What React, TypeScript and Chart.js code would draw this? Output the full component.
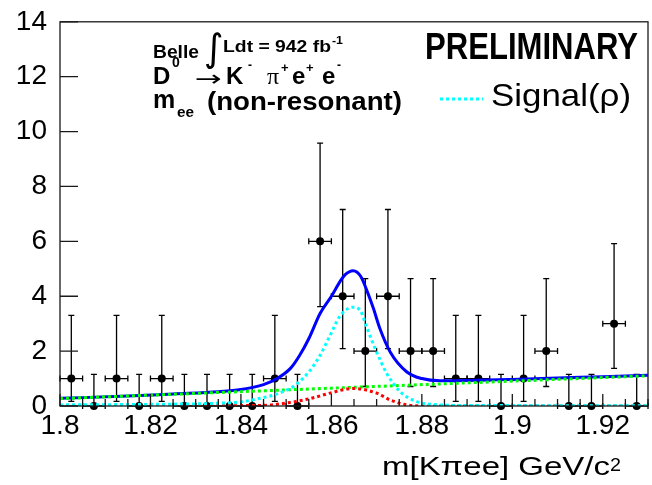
import React, { useEffect, useRef } from 'react';
import { Chart, registerables } from 'chart.js';

Chart.register(...registerables);

// ---------- data ----------
const X_MIN = 1.8;
const X_MAX = 1.93;
const Y_MIN = 0;
const Y_MAX = 14;
const BIN_HALF = 0.0025;

const binCenters = [
  1.8025, 1.8075, 1.8125, 1.8175, 1.8225, 1.8275, 1.8325, 1.8375, 1.8425, 1.8475,
  1.8525, 1.8575, 1.8625, 1.8675, 1.8725, 1.8775, 1.8825, 1.8875, 1.8925, 1.8975,
  1.9025, 1.9075, 1.9125, 1.9175, 1.9225, 1.9275,
];
const counts = [1, 0, 1, 0, 1, 0, 0, 0, 0, 1, 0, 6, 4, 2, 4, 2, 2, 1, 1, 0, 1, 2, 0, 0, 3, 0];
const errLow = [0.83, 0, 0.83, 0, 0.83, 0, 0, 0, 0, 0.83, 0, 2.38, 1.91, 1.29, 1.91, 1.29, 1.29, 0.83, 0.83, 0, 0.83, 1.29, 0, 0, 1.63, 0];
const errHigh = [2.3, 1.15, 2.3, 1.15, 2.3, 1.15, 1.15, 1.15, 1.15, 2.3, 1.15, 3.58, 3.16, 2.64, 3.16, 2.64, 2.64, 2.3, 2.3, 1.15, 2.3, 2.64, 1.15, 1.15, 2.92, 1.15];

// total fit (blue)
const totalMass = [1.8, 1.815, 1.825, 1.835, 1.84, 1.845, 1.848, 1.851, 1.853, 1.855, 1.8575, 1.86, 1.862, 1.863, 1.8648, 1.8665, 1.868, 1.8693, 1.8707, 1.873, 1.8767, 1.88, 1.884, 1.89, 1.9, 1.91, 1.92, 1.93];
const totalVal = [0.28, 0.36, 0.44, 0.52, 0.6, 0.78, 1.0, 1.38, 1.85, 2.45, 3.37, 4.0, 4.56, 4.78, 4.93, 4.72, 4.14, 3.55, 2.83, 1.97, 1.24, 1.0, 0.92, 0.93, 0.97, 1.02, 1.07, 1.12];

// combinatorial background (green)
const bkgMass = [1.8, 1.86, 1.93];
const bkgVal = [0.27, 0.65, 1.1];

// peaking background (red)
const peakMass = [1.8, 1.845, 1.8479, 1.852, 1.856, 1.8597, 1.8648, 1.87, 1.873, 1.8767, 1.88, 1.93];
const peakVal = [0.0, 0.02, 0.06, 0.16, 0.3, 0.47, 0.64, 0.47, 0.22, 0.04, 0.0, 0.0];

// signal (cyan)
const sigMass = [1.8, 1.82, 1.835, 1.84, 1.8442, 1.848, 1.852, 1.8553, 1.8575, 1.8597, 1.862, 1.8648, 1.8665, 1.8678, 1.87, 1.8722, 1.8752, 1.8789, 1.882, 1.89, 1.93];
const sigVal = [0.04, 0.06, 0.1, 0.15, 0.28, 0.44, 0.76, 1.3, 1.85, 2.57, 3.3, 3.6, 3.45, 2.87, 1.97, 1.2, 0.52, 0.16, 0.06, 0.02, 0.01];

const xTickValues = [1.8, 1.82, 1.84, 1.86, 1.88, 1.9, 1.92];
const yTickValues = [0, 2, 4, 6, 8, 10, 12, 14];
const X_MINOR_STEP = 0.005;

const FAMILY = "'Liberation Sans', Arial, Helvetica, sans-serif";

const pts = (xs: number[], ys: number[]) => xs.map((x, i) => ({ x, y: ys[i] }));

function txt(ctx: CanvasRenderingContext2D, s: string, x: number, y: number, font: string, w?: number) {
  ctx.font = font;
  if (w) {
    const m = ctx.measureText(s).width;
    ctx.save();
    ctx.translate(x, y);
    ctx.scale(w / m, 1);
    ctx.fillText(s, 0, 0);
    ctx.restore();
  } else {
    ctx.fillText(s, x, y);
  }
}

const errorBarPlugin = {
  id: 'errorBars',
  beforeDatasetsDraw(chart: any) {
    const { ctx, scales } = chart;
    const xs = scales.x;
    const ys = scales.y;
    ctx.save();
    ctx.strokeStyle = '#000';
    ctx.lineWidth = 1.3;
    const cap = 3;
    binCenters.forEach((c, i) => {
      const px = xs.getPixelForValue(c);
      const py = ys.getPixelForValue(counts[i]);
      const pLo = ys.getPixelForValue(counts[i] - errLow[i]);
      const pHi = ys.getPixelForValue(counts[i] + errHigh[i]);
      const pL = xs.getPixelForValue(c - BIN_HALF);
      const pR = xs.getPixelForValue(c + BIN_HALF);
      ctx.beginPath();
      ctx.moveTo(px, pLo);
      ctx.lineTo(px, pHi);
      ctx.moveTo(px - cap, pHi);
      ctx.lineTo(px + cap, pHi);
      if (errLow[i] > 0) {
        ctx.moveTo(px - cap, pLo);
        ctx.lineTo(px + cap, pLo);
      }
      ctx.moveTo(pL, py);
      ctx.lineTo(pR, py);
      ctx.moveTo(pL, py - cap);
      ctx.lineTo(pL, py + cap);
      ctx.moveTo(pR, py - cap);
      ctx.lineTo(pR, py + cap);
      ctx.stroke();
    });
    ctx.restore();
  },
};

const overlayPlugin = {
  id: 'overlay',
  afterDraw(chart: any) {
    const { ctx, chartArea, scales } = chart;
    const { left, right, top, bottom } = chartArea;
    ctx.save();
    // frame
    ctx.strokeStyle = '#1a1a1a';
    ctx.lineWidth = 1.3;
    ctx.strokeRect(left, top, right - left, bottom - top);
    // y ticks
    ctx.beginPath();
    yTickValues.forEach((v) => {
      const py = scales.y.getPixelForValue(v);
      ctx.moveTo(left, py);
      ctx.lineTo(left + 18, py);
    });
    // x ticks
    const n = Math.round((X_MAX - X_MIN) / X_MINOR_STEP);
    for (let k = 0; k <= n; k++) {
      const v = X_MIN + k * X_MINOR_STEP;
      const px = scales.x.getPixelForValue(v);
      const major = k % 4 === 0;
      ctx.moveTo(px, bottom);
      ctx.lineTo(px, bottom - (major ? 12 : 7));
    }
    ctx.stroke();

    // texts
    ctx.fillStyle = '#000';
    ctx.textBaseline = 'alphabetic';
    ctx.textAlign = 'left';
    const B = (s: number) => `bold ${s}px ${FAMILY}`;
    txt(ctx, 'Belle', 153, 58, B(18), 46);
    txt(ctx, '\u222B', 204, 61, `38px 'DejaVu Sans', sans-serif`);
    txt(ctx, 'Ldt = 942 fb', 223, 52, B(17), 108);
    txt(ctx, '-1', 332, 44, B(11), 11);
    txt(ctx, 'D', 153, 84, B(24));
    txt(ctx, '0', 172, 67, B(14));
    ctx.textBaseline = 'middle';
    txt(ctx, '\u2192', 195, 80, `22px 'DejaVu Sans', sans-serif`, 27);
    ctx.textBaseline = 'alphabetic';
    txt(ctx, 'K', 226, 84, B(24));
    txt(ctx, '-', 248, 69, B(12));
    txt(ctx, '\u03C0', 267, 84, `24px 'Liberation Serif', 'Times New Roman', serif`);
    txt(ctx, '+', 281, 72, B(13));
    txt(ctx, 'e', 292, 84, B(24));
    txt(ctx, '+', 306, 72, B(13));
    txt(ctx, 'e', 322, 84, B(24));
    txt(ctx, '-', 337, 69, B(12));
    txt(ctx, 'm', 153, 108, B(25));
    txt(ctx, 'ee', 177, 117, B(14), 17);
    txt(ctx, '(non-resonant)', 207, 110, B(25), 195);

    txt(ctx, 'PRELIMINARY', 425, 59, B(36), 213);

    // legend
    ctx.save();
    ctx.strokeStyle = '#00ffff';
    ctx.lineWidth = 3;
    ctx.setLineDash([3, 3]);
    ctx.beginPath();
    ctx.moveTo(440, 99);
    ctx.lineTo(483, 99);
    ctx.stroke();
    ctx.restore();
    txt(ctx, 'Signal(\u03C1)', 491, 106, `32px ${FAMILY}`, 140);

    // x axis title
    txt(ctx, 'm[K\u03C0ee] GeV/c', 382, 475, `25px ${FAMILY}`, 228);
    txt(ctx, '2', 610, 471, `19px ${FAMILY}`, 11);
    ctx.restore();
  },
};

export default function App() {
  const ref = useRef<HTMLCanvasElement>(null);

  useEffect(() => {
    if (!ref.current) return;
    const fmt = (v: number) => parseFloat(Number(v).toFixed(2)).toString();
    const curve = (label: string, xs: number[], ys: number[], color: string, dashed: boolean, order: number) => ({
      type: 'line' as const,
      label,
      data: pts(xs, ys),
      borderColor: color,
      backgroundColor: color,
      borderWidth: 3,
      borderDash: dashed ? [3, 3] : [],
      pointRadius: 0,
      fill: false,
      cubicInterpolationMode: 'monotone' as const,
      order,
    });
    const chart = new Chart(ref.current, {
      type: 'line',
      data: {
        datasets: [
          {
            type: 'scatter',
            label: 'Data',
            data: pts(binCenters, counts),
            pointRadius: 4,
            pointBackgroundColor: '#000',
            pointBorderColor: '#000',
            pointBorderWidth: 0,
            showLine: false,
            order: 4,
            clip: false,
          } as any,
          curve('Total', totalMass, totalVal, '#0000ff', false, 3),
          curve('Background', bkgMass, bkgVal, '#00ff00', true, 2),
          curve('Peaking', peakMass, peakVal, '#ff0000', true, 1),
          curve('Signal(\u03C1)', sigMass, sigVal, '#00ffff', true, 0),
        ],
      },
      options: {
        animation: false,
        responsive: true,
        maintainAspectRatio: false,
        layout: { padding: { top: 20, right: 4, left: 0, bottom: 0 } },
        plugins: { legend: { display: false }, tooltip: { enabled: false } },
        scales: {
          x: {
            type: 'linear',
            min: X_MIN,
            max: X_MAX,
            afterFit: (s: any) => { s.height = 79; },
            afterBuildTicks: (s: any) => { s.ticks = xTickValues.map((v) => ({ value: v })); },
            ticks: {
              callback: (v: any) => fmt(v),
              font: { family: FAMILY, size: 28 },
              color: '#000',
              padding: -5,
              maxRotation: 0,
              autoSkip: false,
            },
            grid: { display: false },
            border: { display: false },
          },
          y: {
            type: 'linear',
            min: Y_MIN,
            max: Y_MAX,
            afterFit: (s: any) => { s.width = 60; },
            afterBuildTicks: (s: any) => { s.ticks = yTickValues.map((v) => ({ value: v })); },
            ticks: {
              callback: (v: any) => fmt(v),
              font: { family: FAMILY, size: 28 },
              color: '#000',
              padding: 5,
            },
            grid: { display: false },
            border: { display: false },
          },
        },
      } as any,
      plugins: [errorBarPlugin, overlayPlugin],
    });
    return () => chart.destroy();
  }, []);

  return (
    <div style={{ position: 'fixed', left: 0, top: 0, width: 652, height: 485, background: '#fff' }}>
      <canvas ref={ref} />
    </div>
  );
}
